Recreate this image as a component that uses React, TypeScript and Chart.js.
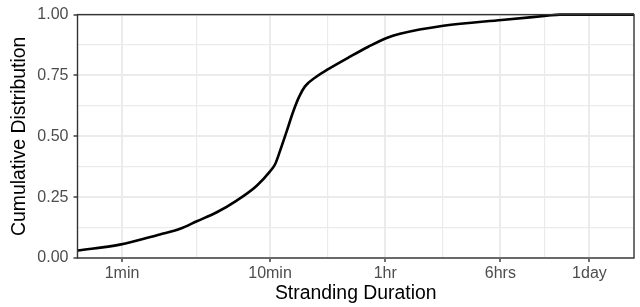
import React, { useEffect, useRef } from "react";
import { Chart, registerables } from "chart.js";

Chart.register(...registerables);

// Stranding duration in seconds (log scale) and cumulative share
const durationSeconds = [30, 58, 108, 148, 192, 262, 357, 488, 600, 649, 701, 778, 862, 946, 1034, 1240, 1485, 2083, 2770, 3684, 4530, 8890, 22040, 44400, 54600, 172800];
const cumulative = [0.031, 0.055, 0.097, 0.12, 0.151, 0.188, 0.236, 0.297, 0.356, 0.385, 0.44, 0.521, 0.603, 0.664, 0.705, 0.746, 0.776, 0.827, 0.868, 0.904, 0.921, 0.954, 0.978, 0.995, 1.0, 1.0];

const xTickValues = [60, 600, 3600, 21600, 86400];
const xTickLabels = ["1min", "10min", "1hr", "6hrs", "1day"];
const xMinorValues = [190, 1470, 8820, 43200];
const yTickValues = [0, 0.25, 0.5, 0.75, 1];
const yMinorValues = [0.125, 0.375, 0.625, 0.875];

const FONT = "'Liberation Sans', Arial, Helvetica, sans-serif";

export default function App() {
  const ref = useRef<HTMLCanvasElement>(null);

  useEffect(() => {
    if (!ref.current) return;
    const isMajorX = (v: number) => xTickValues.indexOf(v) >= 0;
    const isMajorY = (v: number) => yTickValues.some((t) => Math.abs(t - v) < 1e-9);

    const panelBorder = {
      id: "panelBorder",
      afterDatasetsDraw(chart: any) {
        const { ctx, chartArea } = chart;
        const { left, top, right, bottom } = chartArea;
        ctx.save();
        ctx.strokeStyle = "#333333";
        ctx.lineWidth = 1.4;
        ctx.strokeRect(left, top, right - left, bottom - top);
        ctx.restore();
      },
    };

    const chart = new Chart(ref.current, {
      type: "line",
      data: {
        datasets: [
          {
            data: durationSeconds.map((x, i) => ({ x, y: cumulative[i] })),
            borderColor: "#000000",
            borderWidth: 2.6,
            pointRadius: 0,
            cubicInterpolationMode: "monotone",
            fill: false,
            clip: false as any,
          },
        ],
      },
      options: {
        animation: false,
        responsive: true,
        maintainAspectRatio: false,
        layout: { padding: { top: 13, right: 6, left: 0, bottom: 0 } },
        plugins: { legend: { display: false }, tooltip: { enabled: false } },
        scales: {
          x: {
            type: "logarithmic",
            min: 30,
            max: 172800,
            afterBuildTicks: (s: any) => {
              s.ticks = [...xTickValues, ...xMinorValues]
                .sort((a, b) => a - b)
                .map((v) => ({ value: v }));
            },
            afterFit: (s: any) => {
              s.height = 49;
            },
            ticks: {
              autoSkip: false,
              maxRotation: 0,
              color: "#4D4D4D",
              font: { family: FONT, size: 16 },
              padding: 2,
              callback: (v: any) => {
                const i = xTickValues.indexOf(Number(v));
                return i >= 0 ? xTickLabels[i] : "";
              },
            },
            grid: {
              color: "#EBEBEB",
              lineWidth: (c: any) => (isMajorX(c.tick?.value) ? 2 : 1.2),
              tickColor: (c: any) => (isMajorX(c.tick?.value) ? "#333333" : "rgba(0,0,0,0)"),
              tickWidth: 1.4,
              tickLength: 4,
              drawTicks: true,
            },
            border: { display: false },
            title: {
              display: true,
              text: "Stranding Duration",
              color: "#000000",
              font: { family: FONT, size: 19.4, lineHeight: 1.2 },
              padding: { top: 0, bottom: 2 },
            },
          } as any,
          y: {
            type: "linear",
            min: 0,
            max: 1,
            afterBuildTicks: (s: any) => {
              s.ticks = [...yTickValues, ...yMinorValues]
                .sort((a, b) => a - b)
                .map((v) => ({ value: v }));
            },
            afterFit: (s: any) => {
              s.width = 77.5;
            },
            ticks: {
              autoSkip: false,
              color: "#4D4D4D",
              font: { family: FONT, size: 16 },
              padding: 5,
              callback: (v: any) => (isMajorY(Number(v)) ? Number(v).toFixed(2) : ""),
            },
            grid: {
              color: "#EBEBEB",
              lineWidth: (c: any) => (isMajorY(c.tick?.value) ? 2 : 1.2),
              tickColor: (c: any) => (isMajorY(c.tick?.value) ? "#333333" : "rgba(0,0,0,0)"),
              tickWidth: 1.4,
              tickLength: 4,
              drawTicks: true,
            },
            border: { display: false },
            title: {
              display: true,
              text: "Cumulative Distribution",
              color: "#000000",
              font: { family: FONT, size: 19.4, lineHeight: 1.2 },
              padding: { top: 7.7, bottom: 0 },
            },
          } as any,
        },
      },
      plugins: [panelBorder],
    });

    return () => chart.destroy();
  }, []);

  return (
    <div style={{ position: "fixed", left: 0, top: 0, width: 640, height: 307, background: "#ffffff" }}>
      <canvas ref={ref} />
    </div>
  );
}
